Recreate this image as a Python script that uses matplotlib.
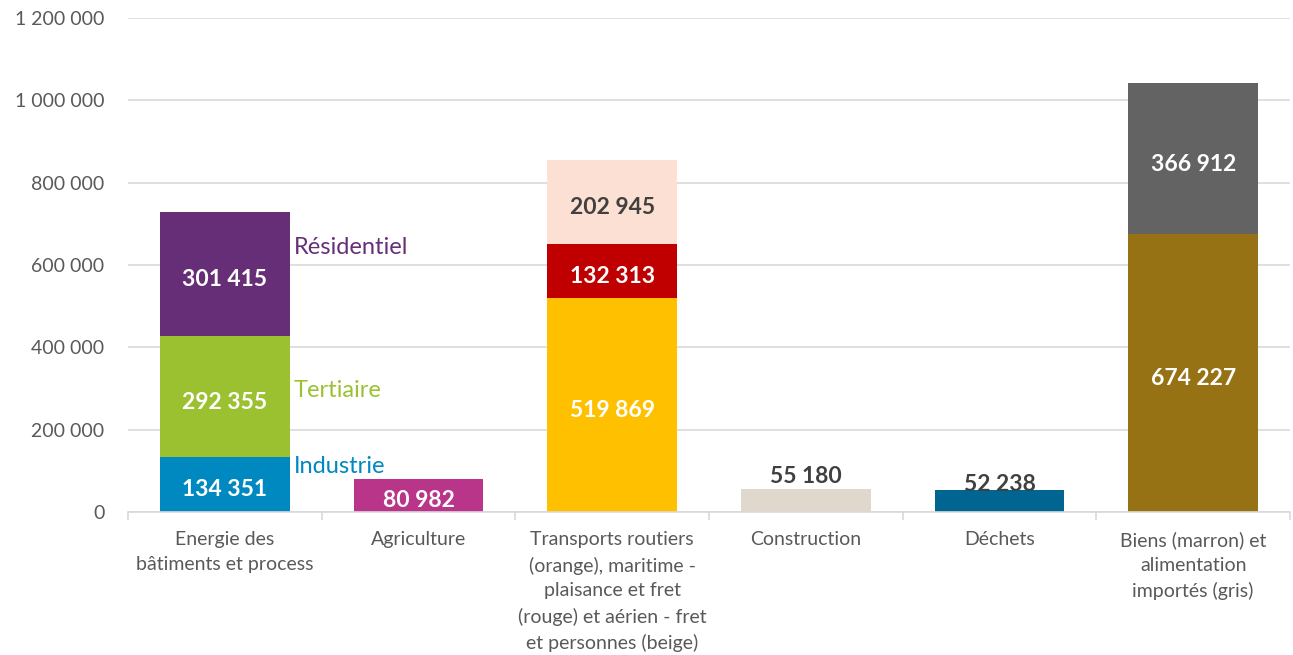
import matplotlib
matplotlib.use('Agg')
import matplotlib.pyplot as plt
import numpy as np

plt.rcParams['font.family'] = ['Lato', 'DejaVu Sans']

categories = ['Energie des\nbâtiments et process', 'Agriculture',
              'Transports routiers\n(orange), maritime -\nplaisance et fret\n(rouge) et aérien - fret\net personnes (beige)',
              'Construction', 'Déchets',
              'Biens (marron) et\nalimentation\nimportés (gris)']
# stack levels, bottom to top
level1 = [134351, 80982, 519869, 55180, 52238, 674227]
level2 = [292355, 0, 132313, 0, 0, 0]
level3 = [301415, 0, 202945, 0, 0, 366912]
colors1 = ['#0088c0', '#b8358a', '#ffc000', '#e0d8cc', '#006590', '#977215']
colors2 = ['#9bc131', '#b8358a', '#c00000', '#e0d8cc', '#006590', '#977215']
colors3 = ['#672e78', '#b8358a', '#fbe0d3', '#e0d8cc', '#006590', '#636363']
text1 = ['white', 'white', 'white', '#404040', '#404040', 'white']
text2 = ['white', 'white', 'white', 'white', 'white', 'white']
text3 = ['white', 'white', '#404040', 'white', 'white', 'white']
series_names = ['Industrie', 'Tertiaire', 'Résidentiel']
series_colors = ['#0088c0', '#9bc131', '#672e78']

def fmt(v):
    return '{:,}'.format(int(v)).replace(',', ' ')

fig = plt.figure(figsize=(12.93, 6.55), dpi=100)
ax = fig.add_axes([128/1293, 143/655, 1162/1293, 494/655])

x = np.arange(len(categories))
w = 0.67
b1 = np.array(level1)
b2 = b1 + np.array(level2)
ax.bar(x, level1, w, color=colors1, zorder=2)
ax.bar(x, level2, w, bottom=b1, color=colors2, zorder=2)
ax.bar(x, level3, w, bottom=b2, color=colors3, zorder=2)

for i in range(len(categories)):
    segs = [(0, level1[i], text1[i]), (b1[i], level2[i], text2[i]), (b2[i], level3[i], text3[i])]
    for base, v, c in segs:
        if v == 0:
            continue
        if v < 60000 and i in (3, 4):
            # small bars: label sits on top of the bar
            ax.annotate(fmt(v), (x[i], base + v), xytext=(0, 9 if i == 3 else 4),
                        textcoords='offset points', ha='center', va='center',
                        fontsize=16.5, fontweight='bold', color=c, zorder=3)
        else:
            ax.annotate(fmt(v), (x[i], base + v / 2), xytext=(0, -4),
                        textcoords='offset points', ha='center', va='center',
                        fontsize=16.5, fontweight='bold', color=c, zorder=3)

# series names next to the first stack
centers = [level1[0] / 2, b1[0] + level2[0] / 2, b2[0] + level3[0] / 2]
offsets = [12.5, 4, 19]
for name, col, yc, off in zip(series_names, series_colors, centers, offsets):
    ax.annotate(name, (x[0] + w / 2, yc), xytext=(3, off), textcoords='offset points',
                ha='left', va='center', fontsize=17, color=col)

ax.set_xlim(-0.5, len(categories) - 0.5)
ax.set_ylim(0, 1200000)
ax.set_yticks(np.arange(0, 1200001, 200000))
ax.set_yticklabels([fmt(t) for t in np.arange(0, 1200001, 200000)])
ax.yaxis.grid(True, color='#d9d9d9', linewidth=1.2, zorder=0)
ax.set_axisbelow(True)

ax.set_xticks(x)
ax.set_xticklabels(categories, fontsize=14, color='#595959', linespacing=1.55)
ax.set_xticks(np.arange(-0.5, len(categories), 1), minor=True)
ax.tick_params(axis='x', which='major', length=0, pad=14)
ax.tick_params(axis='x', which='minor', length=6, color='#d9d9d9', width=1.2)
ax.tick_params(axis='y', length=0, labelsize=14, labelcolor='#595959', pad=17)

for s in ['top', 'right', 'left']:
    ax.spines[s].set_visible(False)
ax.spines['bottom'].set_color('#d9d9d9')
ax.spines['bottom'].set_linewidth(1.2)

fig.savefig('out.png', dpi=100)
